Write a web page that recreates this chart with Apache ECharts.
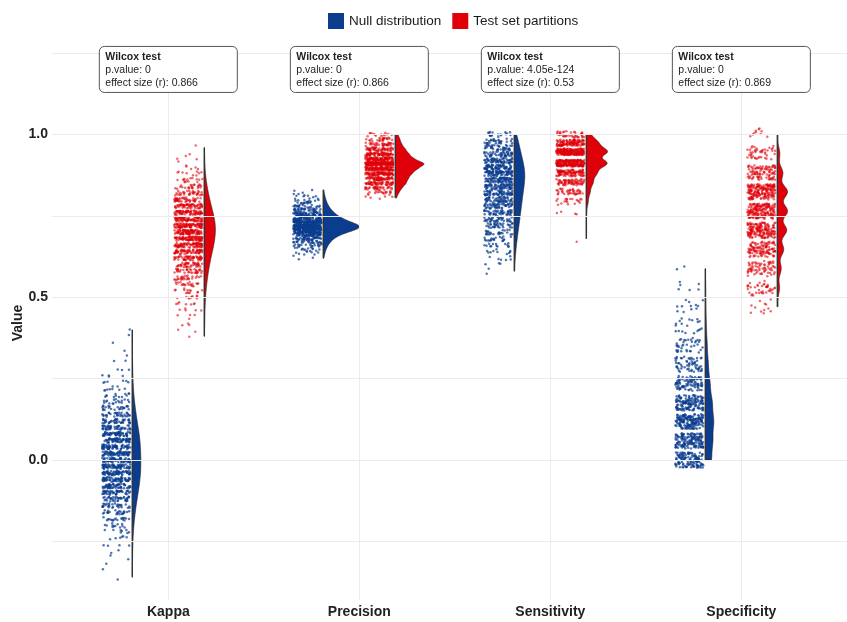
<!DOCTYPE html>
<html><head><meta charset="utf-8">
<script src="https://cdn.jsdelivr.net/npm/echarts@6/dist/echarts.min.js"></script>
<style>html,body{margin:0;padding:0;background:#fff}#c{width:847px;height:622px}</style>
</head><body><div id="c"></div><script>
// ---------------- data ----------------
const categories = ['Kappa', 'Precision', 'Sensitivity', 'Specificity'];
const groupNames = ['Null distribution', 'Test set partitions'];
const testName = 'Wilcox test';
const pValues = ['0', '0', '4.05e-124', '0'];
const effectSizes = ['0.866', '0.866', '0.53', '0.869'];
const yTickValues = [0, 0.5, 1.0];
const yGridValues = [-0.25, 0, 0.25, 0.5, 0.75, 1.0, 1.25];
const labelY = 1.2;

// observed values (levels) and how many observations sit at each level
const kappaNullLevels = [-0.36,-0.34,-0.32,-0.30,-0.28,-0.26,-0.24,-0.22,-0.20,-0.18,-0.16,-0.14,-0.12,-0.10,-0.08,-0.06,-0.04,-0.02,0.00,0.02,0.04,0.06,0.08,0.10,0.12,0.14,0.16,0.18,0.20,0.22,0.24,0.26,0.28,0.30,0.32,0.34,0.36,0.38,0.40];
const kappaNullCounts = [1,1,1,2,2,4,6,8,12,18,24,30,40,47,57,64,68,71,70,70,67,63,58,47,40,31,24,17,12,9,6,4,3,2,1,1,1,1,1];

const kappaTestLevels = [0.38,0.40,0.42,0.44,0.46,0.48,0.50,0.52,0.54,0.56,0.58,0.60,0.62,0.64,0.66,0.68,0.70,0.72,0.74,0.76,0.78,0.80,0.82,0.84,0.86,0.88,0.90,0.92,0.94,0.96];
const kappaTestCounts = [1,2,3,4,5,7,10,14,20,27,35,44,56,68,82,92,98,98,90,76,60,46,34,24,15,9,5,3,2,1];

const precNullLevels = [0.62,0.63,0.64,0.65,0.66,0.67,0.68,0.69,0.70,0.71,0.72,0.73,0.74,0.75,0.76,0.77,0.78,0.79,0.80,0.81,0.82,0.83];
const precNullCounts = [2,4,7,11,17,25,36,55,85,130,140,100,72,52,38,27,19,13,9,6,3,2];

const precTestLevels = [0.805,0.82,0.835,0.85,0.865,0.88,0.895,0.91,0.925,0.94,0.955,0.97,0.985,1.0];
const precTestCounts = [5,18,35,60,70,90,120,170,100,75,55,35,25,15];

const sensNullLevels = [0.58,0.60,0.62,0.64,0.66,0.68,0.70,0.72,0.74,0.76,0.78,0.80,0.82,0.84,0.86,0.88,0.90,0.92,0.94,0.96,0.98,1.00];
const sensNullCounts = [2,3,6,10,14,20,26,32,38,44,50,55,61,68,74,76,70,60,48,38,28,18];

const sensTestLevels = [0.68,0.765,0.794,0.824,0.853,0.882,0.912,0.947,0.975,1.0];
const sensTestCounts = [1,4,20,40,70,110,230,230,120,40];

const specNullLevels = [0.0,0.059,0.118,0.176,0.235,0.294,0.353,0.412,0.471,0.529,0.588];
const specNullCounts = [130,150,170,140,95,60,38,20,12,6,2];

const specTestLevels = [0.471,0.529,0.588,0.647,0.706,0.765,0.824,0.882,0.941,1.0];
const specTestCounts = [12,40,70,115,170,185,185,100,45,10];

// ---------------- layout / style ----------------
const colors = ['#0b3d8f', '#e0000a'];
const dodge = 0.1885;        // category units from centre to violin edge
const jitterFar = 0.157, jitterNear = 0.0105;
const violinMaxWidth = 0.1885;

const groups = [
  {cat: 0, g: 0, levels: kappaNullLevels, counts: kappaNullCounts, bw: 0.024, jh: 0.007},
  {cat: 0, g: 1, levels: kappaTestLevels, counts: kappaTestCounts, bw: 0.022, jh: 0.007},
  {cat: 1, g: 0, levels: precNullLevels, counts: precNullCounts, bw: 0.008, jh: 0.004},
  {cat: 1, g: 1, levels: precTestLevels, counts: precTestCounts, bw: 0.008, jh: 0.0055},
  {cat: 2, g: 0, levels: sensNullLevels, counts: sensNullCounts, bw: 0.02, jh: 0.008},
  {cat: 2, g: 1, levels: sensTestLevels, counts: sensTestCounts, bw: 0.013, jh: 0.01},
  {cat: 3, g: 0, levels: specNullLevels, counts: specNullCounts, bw: 0.028, jh: 0.0235},
  {cat: 3, g: 1, levels: specTestLevels, counts: specTestCounts, bw: 0.019, jh: 0.0235}
];

function hash(i, s) { const x = Math.sin(i * 127.1 + s * 311.7) * 43758.5453; return x - Math.floor(x); }

// points (jittered observations)
const pointData = [[], []];
let counter = 0;
groups.forEach(gr => {
  const lineX = gr.cat + 1 + (gr.g === 0 ? -dodge : dodge);
  gr.lineX = lineX;
  gr.levels.forEach((lv, li) => {
    for (let k = 0; k < gr.counts[li]; k++) {
      counter++;
      const jx = lineX - jitterFar + (jitterFar - jitterNear) * hash(counter, 1.3);
      const jy = lv + gr.jh * (2 * hash(counter, 7.9) - 1);
      pointData[gr.g].push([jx, jy]);
    }
  });
});

// densities (weighted gaussian kde, trimmed to data range)
groups.forEach(gr => {
  const n = gr.counts.reduce((a, b) => a + b, 0);
  const lo = Math.min(...gr.levels), hi = Math.max(...gr.levels);
  const prof = [];
  const steps = 240;
  for (let s = 0; s <= steps; s++) {
    const y = lo + (hi - lo) * s / steps;
    let d = 0;
    gr.levels.forEach((lv, li) => {
      const z = (y - lv) / gr.bw;
      d += gr.counts[li] * Math.exp(-0.5 * z * z);
    });
    d = d / (n * gr.bw * Math.sqrt(2 * Math.PI));
    prof.push([y, d]);
  }
  gr.profile = prof; gr.lo = lo; gr.hi = hi;
  gr.peak = Math.max(...prof.map(p => p[1]));
});
const maxPeak = Math.max(...groups.map(g => g.peak));
const kScale = violinMaxWidth / maxPeak;

// ---------------- chart ----------------
const chart = echarts.init(document.getElementById('c'), null, {renderer: 'canvas'});
const font = "'Liberation Sans', Arial, sans-serif";

const option = {
  animation: false,
  textStyle: {fontFamily: font},
  legend: {
    left: 323, top: 8, itemWidth: 16, itemHeight: 16, itemGap: 11,
    icon: 'rect',
    textStyle: {fontSize: 13.5, color: '#1a1a1a', fontFamily: font},
    data: groupNames.map((nm, i) => ({name: nm, itemStyle: {color: colors[i], borderWidth: 0, opacity: 1}}))
  },
  grid: {left: 52, right: 0, top: 46, bottom: 22, containLabel: false, outerBoundsMode: 'none'},
  xAxis: {
    type: 'value', min: 0.391, max: 4.553,
    axisLine: {show: false}, axisTick: {show: false}, splitLine: {show: false},
    axisLabel: {
      customValues: [1, 2, 3, 4],
      formatter: v => categories[Math.round(v) - 1] || '',
      fontSize: 14, fontWeight: 'bold', color: '#222', margin: 5, fontFamily: font
    }
  },
  yAxis: {
    type: 'value', min: -0.43, max: 1.272,
    name: 'Value', nameLocation: 'middle', nameGap: 27, nameMoveOverlap: false,
    nameTextStyle: {fontSize: 14, fontWeight: 'bold', color: '#222', fontFamily: font},
    axisLine: {show: false}, axisTick: {show: false}, splitLine: {show: false},
    axisLabel: {
      customValues: yTickValues,
      formatter: v => v.toFixed(1),
      fontSize: 14, fontWeight: 'bold', color: '#222', margin: 4, fontFamily: font
    }
  },
  series: [
    {
      type: 'line', name: 'grid', data: [], silent: true,
      markLine: {
        silent: true, symbol: 'none', animation: false, label: {show: false},
        lineStyle: {color: '#ebebeb', width: 1, type: 'solid'},
        data: yGridValues.map(v => ({yAxis: v})).concat(categories.map((c, i) => ({xAxis: i + 1})))
      }
    },
    {
      type: 'scatter', name: groupNames[0], data: pointData[0], symbolSize: 2.5,
      progressive: 0, large: false, silent: true,
      itemStyle: {color: colors[0], opacity: 0.7}
    },
    {
      type: 'scatter', name: groupNames[1], data: pointData[1], symbolSize: 2.5,
      progressive: 0, large: false, silent: true,
      itemStyle: {color: colors[1], opacity: 0.58}
    },
    {
      type: 'custom', name: 'violins', silent: true, clip: false, z: 3,
      data: groups.map((g, i) => [g.lineX, g.lo, g.hi, i]),
      renderItem: (params, api) => {
        const gr = groups[params.dataIndex];
        const pts = gr.profile.map(p => api.coord([gr.lineX + p[1] * kScale, p[0]]));
        const top = api.coord([gr.lineX, gr.hi]);
        const bot = api.coord([gr.lineX, gr.lo]);
        pts.push(top); pts.unshift(bot);
        return {
          type: 'group',
          children: [
            {type: 'polygon', shape: {points: pts},
             style: {fill: colors[gr.g], stroke: '#2a1a1a', lineWidth: 0.6}},
            {type: 'line', shape: {x1: top[0], y1: top[1], x2: bot[0], y2: bot[1]},
             style: {stroke: '#333', lineWidth: 1.4}}
          ]
        };
      }
    },
    {
      type: 'custom', name: 'labels', silent: true, clip: false, z: 5,
      data: categories.map((c, i) => [i + 1, labelY]),
      renderItem: (params, api) => {
        const i = params.dataIndex;
        const c = api.coord([api.value(0), api.value(1)]);
        const w = 138, h = 46;
        const tx = c[0] - w / 2 + 6;
        const base = {fontFamily: font, fontSize: 10.5, fill: '#222', textAlign: 'left', textVerticalAlign: 'middle'};
        return {
          type: 'group',
          children: [
            {type: 'rect', shape: {x: c[0] - w / 2, y: c[1] - h / 2, width: w, height: h, r: 5},
             style: {fill: '#fff', stroke: '#555', lineWidth: 1}},
            {type: 'text', x: tx, y: c[1] - 12, style: Object.assign({}, base, {text: testName, fontWeight: 'bold'})},
            {type: 'text', x: tx, y: c[1] + 1, style: Object.assign({}, base, {text: 'p.value: ' + pValues[i]})},
            {type: 'text', x: tx, y: c[1] + 14, style: Object.assign({}, base, {text: 'effect size (r): ' + effectSizes[i]})}
          ]
        };
      }
    }
  ]
};
chart.setOption(option);
</script></body></html>
